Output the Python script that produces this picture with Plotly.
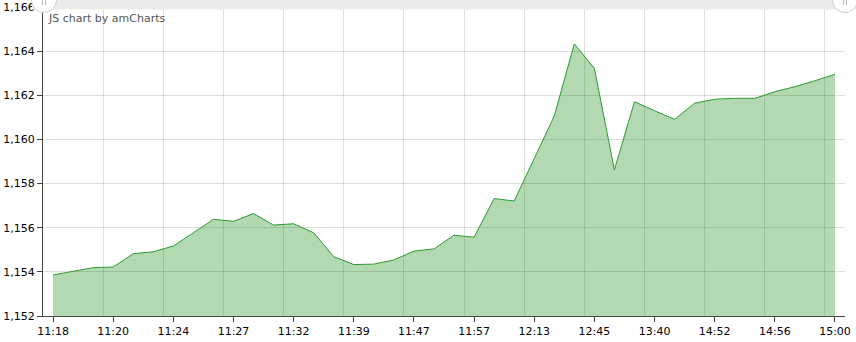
import plotly.graph_objects as go

# ---- data ----
values = [1153.86, 1154.02, 1154.19, 1154.22, 1154.82, 1154.91, 1155.17, 1155.77,
          1156.38, 1156.29, 1156.64, 1156.12, 1156.18, 1155.77, 1154.69, 1154.33,
          1154.35, 1154.54, 1154.94, 1155.04, 1155.66, 1155.57, 1157.32, 1157.21,
          1159.10, 1161.06, 1164.33, 1163.22, 1158.62, 1161.71, 1161.30, 1160.91,
          1161.64, 1161.82, 1161.86, 1161.86, 1162.16, 1162.39, 1162.66, 1162.95]
tick_labels = ["11:18", "11:20", "11:24", "11:27", "11:32", "11:39", "11:47",
               "11:57", "12:13", "12:45", "13:40", "14:52", "14:56", "15:00"]
label_step = 3
y_min, y_max, y_step = 1152, 1166, 2

# ---- derived ----
idx = list(range(len(values)))
tick_pos = idx[::label_step]
grid_pos = [p - 0.5 for p in tick_pos]

W, H = 856, 342
L, R, T, B = 43, 11, 7, 26
pw, ph = W - L - R, H - T - B

def px(x):
    return (x - L) / pw

def py(y):
    return (H - B - y) / ph

fig = go.Figure()
fig.add_trace(go.Scatter(
    x=idx, y=values, mode="lines", fill="tozeroy",
    line=dict(color="#2e9a2e", width=1),
    fillcolor="rgba(0,128,0,0.3)",
    hoverinfo="skip", showlegend=False,
))

axis_font = dict(family="DejaVu Sans, Verdana, sans-serif", size=11, color="#000000")

fig.update_layout(
    width=W, height=H,
    margin=dict(l=L, r=R, t=T, b=B, pad=0),
    paper_bgcolor="white", plot_bgcolor="white",
    showlegend=False,
    xaxis=dict(
        range=[-0.5, len(values) - 0.5],
        automargin=False,
        tickmode="array", tickvals=tick_pos, ticktext=tick_labels,
        showgrid=False, zeroline=False,
        showline=True, linecolor="#444444", linewidth=1,
        ticks="outside", ticklen=5, tickcolor="#444444", tickwidth=1,
        tickfont=axis_font,
        minor=dict(tickmode="array", tickvals=grid_pos, showgrid=True,
                   gridcolor="rgba(0,0,0,0.13)", gridwidth=1, ticklen=0),
    ),
    yaxis=dict(
        range=[y_min, y_max],
        automargin=False,
        tickmode="linear", tick0=y_min, dtick=y_step,
        tickformat=",d",
        showgrid=True, gridcolor="rgba(0,0,0,0.13)", gridwidth=1,
        zeroline=False,
        showline=True, linecolor="#444444", linewidth=1,
        ticks="outside", ticklen=5, tickcolor="#444444", tickwidth=1,
        tickfont=axis_font,
    ),
)

# scrollbar band and handles at top
shapes = [
    dict(type="rect", xref="paper", yref="paper",
         x0=px(32), x1=px(W), y0=py(9.5), y1=py(0),
         fillcolor="#ebebeb", line=dict(width=0), layer="above"),
]
for cx in (44, 845):
    shapes.append(dict(type="circle", xref="paper", yref="paper",
                       x0=px(cx - 12.5), x1=px(cx + 12.5),
                       y0=py(12.5), y1=py(-12.5),
                       fillcolor="white", line=dict(color="#cfcfcf", width=1),
                       layer="above"))
    for dx in (-1.5, 1.5):
        shapes.append(dict(type="line", xref="paper", yref="paper",
                           x0=px(cx + dx), x1=px(cx + dx), y0=py(0), y1=py(5),
                           line=dict(color="#bbbbbb", width=1), layer="above"))
fig.update_layout(shapes=shapes)

fig.add_annotation(
    text="JS chart by amCharts", xref="paper", yref="paper",
    x=px(46), y=py(18), xanchor="left", yanchor="middle", showarrow=False,
    font=dict(family="DejaVu Sans, Verdana, sans-serif", size=11, color="#555555"),
)

fig.write_html("out.html")
